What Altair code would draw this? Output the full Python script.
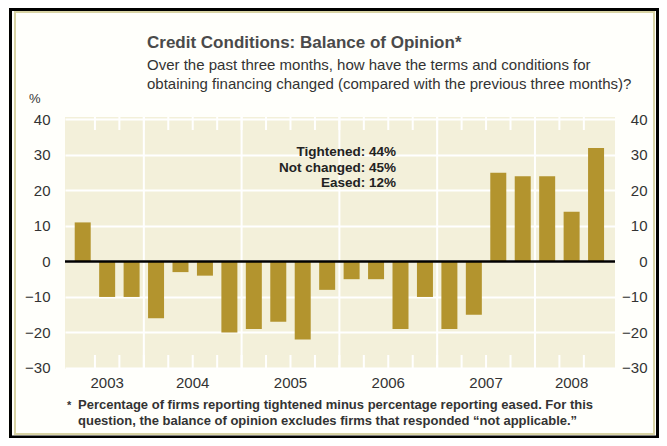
import altair as alt
import pandas as pd

# ---- data ----
quarters = ["2003Q2", "2003Q3", "2003Q4",
            "2004Q1", "2004Q2", "2004Q3", "2004Q4",
            "2005Q1", "2005Q2", "2005Q3", "2005Q4",
            "2006Q1", "2006Q2", "2006Q3", "2006Q4",
            "2007Q1", "2007Q2", "2007Q3", "2007Q4",
            "2008Q1", "2008Q2", "2008Q3"]
balance = [11, -10, -10,
           -16, -3, -4, -20,
           -19, -17, -22, -8,
           -5, -5, -19, -10,
           -19, -15, 25, 24,
           24, 14, 32]
y_ticks = [-30, -20, -10, 0, 10, 20, 30, 40]

title_text = "Credit Conditions: Balance of Opinion*"
subtitle_lines = ["Over the past three months, how have the terms and conditions for",
                  "obtaining financing changed (compared with the previous three months)?"]
unit_label = "%"
note_lines = ["Tightened: 44%", "Not changed: 45%", "Eased: 12%"]
footnote_mark = "*"
footnote_lines = ["Percentage of firms reporting tightened minus percentage reporting eased. For this",
                  "question, the balance of opinion excludes firms that responded \u201cnot applicable.\u201d"]

# ---- tables built from the lists ----
df = pd.DataFrame({"quarter": quarters, "balance": balance})
df["pos"] = range(len(df))
df["year"] = df["quarter"].str[:4]

year_df = df.groupby("year", as_index=False)["pos"].mean()
sep_df = df.groupby("year", as_index=False)["pos"].min().iloc[1:].copy()
sep_df["pos"] = sep_df["pos"] - 0.5
qtick_df = pd.DataFrame({"pos": [p + 0.5 for p in range(len(df) - 1)]})
zero_df = pd.DataFrame({"z": [0]})

FONT = "Liberation Sans"
W, H = 550, 252
BAR = "#B3942E"
BG = "#F3F0DA"

xscale = alt.Scale(domain=[-0.52, 21.57], nice=False, zero=False)
yscale = alt.Scale(domain=[-30.3, 40.7], nice=False, zero=False)

seps = alt.Chart(sep_df).mark_rule(color="white", strokeWidth=2).encode(
    x=alt.X("pos:Q", scale=xscale, axis=None),
    y=alt.value(0), y2=alt.value(H))

qtop = alt.Chart(qtick_df).mark_rule(color="white", strokeWidth=2).encode(
    x=alt.X("pos:Q", scale=xscale, axis=None),
    y=alt.value(0), y2=alt.value(13))
qbot = alt.Chart(qtick_df).mark_rule(color="white", strokeWidth=2).encode(
    x=alt.X("pos:Q", scale=xscale, axis=None),
    y=alt.value(H - 14), y2=alt.value(H))

bars = alt.Chart(df).mark_bar(color=BAR, size=16).encode(
    x=alt.X("pos:Q", scale=xscale, axis=None),
    y=alt.Y("balance:Q", scale=yscale, title=None,
            axis=alt.Axis(orient="left", values=y_ticks, grid=True, gridColor="white",
                          gridWidth=2, ticks=False, tickSize=0, domain=False,
                          labelPadding=15, labelFont=FONT, labelFontSize=15,
                          labelColor="#333333", labelFontWeight="normal")),
    y2=alt.datum(0))

zero = alt.Chart(zero_df).mark_rule(color="black", strokeWidth=2.5).encode(
    y=alt.Y("z:Q", scale=yscale, title=None,
            axis=alt.Axis(orient="right", values=y_ticks, grid=False, ticks=False,
                          tickSize=0, domain=False, labelAlign="right",
                          labelPadding=32, labelFont=FONT, labelFontSize=15,
                          labelColor="#333333")))

years = alt.Chart(year_df).mark_text(font=FONT, fontSize=15, color="#333333",
                                     baseline="alphabetic").encode(
    x=alt.X("pos:Q", scale=xscale, axis=None),
    y=alt.value(271),
    text="year:N")


def label(s, x, y, size, weight="normal", color="#333333", align="left"):
    return alt.Chart(pd.DataFrame({"t": [s]})).mark_text(
        font=FONT, fontSize=size, fontWeight=weight, color=color, align=align,
        baseline="alphabetic").encode(x=alt.value(x), y=alt.value(y), text="t:N")


texts = [
    label(title_text, 82, -69, 17, "bold", "#4a4a4a"),
    label(subtitle_lines[0], 82, -47, 15, "normal", "#333333"),
    label(subtitle_lines[1], 82, -28, 15, "normal", "#333333"),
    label(unit_label, -36, -14, 13, "normal", "#333333"),
    label(note_lines[0], 331, 39, 13.5, "bold", "#222222", "right"),
    label(note_lines[1], 331, 54.5, 13.5, "bold", "#222222", "right"),
    label(note_lines[2], 331, 70, 13.5, "bold", "#222222", "right"),
    label(footnote_mark, 2, 292, 11, "bold", "#333333"),
    label(footnote_lines[0], 13, 292, 13, "bold", "#333333"),
    label(footnote_lines[1], 13, 308, 13, "bold", "#333333"),
]

one = pd.DataFrame({"k": [0]})
frame_outer = alt.Chart(one).mark_rect(fillOpacity=0, stroke="black", strokeWidth=3).encode(
    x=alt.value(-54.5), x2=alt.value(592.5), y=alt.value(-107.5), y2=alt.value(320))
frame_inner = alt.Chart(one).mark_rect(fillOpacity=0, stroke="#D8D3A4", strokeWidth=2).encode(
    x=alt.value(-50), x2=alt.value(589), y=alt.value(-105), y2=alt.value(317))

chart = alt.layer(
    seps, qtop, qbot, bars, zero, years, *texts, frame_inner, frame_outer
).resolve_scale(y="shared").resolve_axis(y="independent").properties(
    width=W, height=H,
    autosize=alt.AutoSizeParams(type="none"),
    padding={"left": 57, "top": 109, "right": 44, "bottom": 69},
    background="#FFFFFB",
).configure_view(fill=BG, strokeWidth=0)

chart.save("out.html", embed_options={"renderer": "svg", "actions": False})
